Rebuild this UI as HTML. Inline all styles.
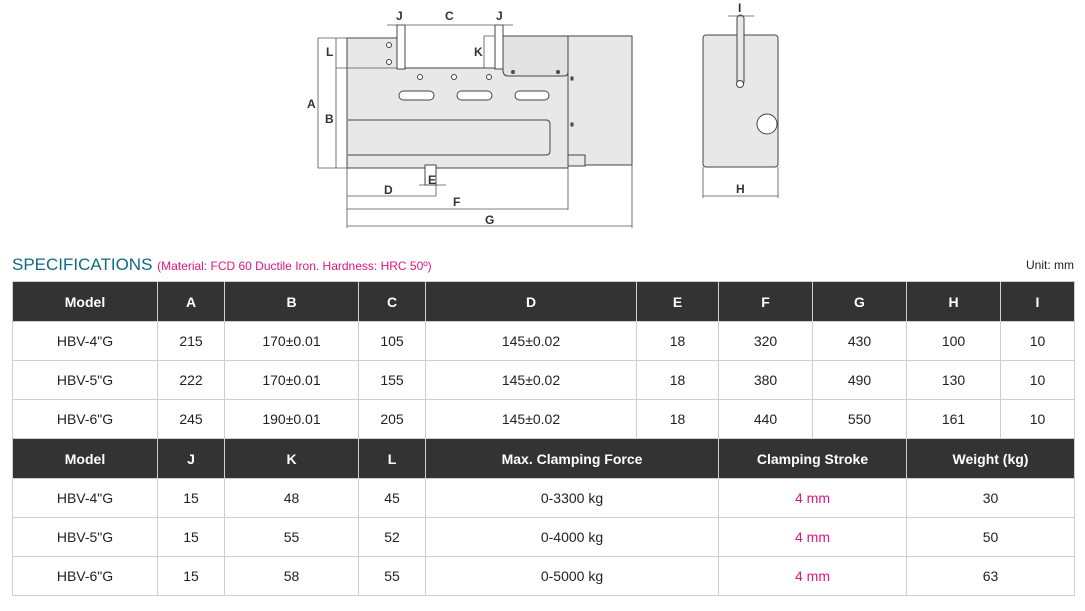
<!DOCTYPE html>
<html><head><meta charset="utf-8"><style>
body{margin:0;width:1085px;height:611px;background:#fff;position:relative;overflow:hidden;font-family:"Liberation Sans",Arial,sans-serif}
table{position:absolute;left:12px;border-collapse:collapse;table-layout:fixed;width:1062px}
td{border:1px solid #cfcfcf;text-align:center;font-size:14px;color:#222;padding:0;height:38px}
tr.h td{background:#333;color:#fff;font-weight:bold;height:39px}
.p{color:#e0157f}
</style></head><body>
<svg style="position:absolute;left:0;top:0" width="1085" height="240" font-family="Liberation Sans,Arial,sans-serif" font-size="12" font-weight="bold" fill="#333">
<g stroke="#444" stroke-width="1" fill="#e8e8e8">
<rect x="568" y="36" width="64" height="129"/>
<rect x="568" y="155" width="17" height="11"/>
<path d="M347 38 H397 V68 H503 V36 H568 V168 H347 Z"/>
<path d="M503 36 H568 V72 Q568 76 564 76 H508 Q503 76 503 70 Z" fill="#e2e2e2"/>
<rect x="397" y="25" width="8" height="44" fill="#fff"/>
<rect x="495" y="25" width="8" height="44" fill="#fff"/>
<rect x="425" y="165" width="11" height="20" fill="#fff"/>
<path d="M348 120 H546 Q550 120 550 124 V151 Q550 155 546 155 H348" fill="#e8e8e8"/>
<rect x="399" y="91" width="35" height="9" rx="4.5" fill="#fff"/>
<rect x="457" y="91" width="35" height="9" rx="4.5" fill="#fff"/>
<rect x="515" y="91" width="34" height="9" rx="4.5" fill="#fff"/>
<circle cx="389" cy="45" r="2.5" fill="#fff"/><circle cx="389" cy="62" r="2.5" fill="#fff"/>
<circle cx="420" cy="77" r="2.5" fill="#fff"/><circle cx="454" cy="77" r="2.5" fill="#fff"/><circle cx="489" cy="77" r="2.5" fill="#fff"/>
<circle cx="513" cy="72" r="1.5" fill="#555"/><circle cx="558" cy="72" r="1.5" fill="#555"/>
<rect x="571" y="77" width="2" height="3" fill="#555"/><rect x="571" y="123" width="2" height="3" fill="#555"/>
<rect x="703" y="35" width="75" height="132" rx="3"/>
<rect x="737" y="15" width="7" height="70" rx="3.5" fill="#e8e8e8"/>
<circle cx="740" cy="84" r="3.5" fill="#fff"/>
<circle cx="767" cy="124" r="10" fill="#fff"/>
</g>
<g stroke="#555" stroke-width="0.8" fill="none">
<path d="M318 38 H347 M336 38 V68 M336 68 H397 M318 168 H347 M318 38 V168 M336 68 V168"/>
<path d="M387 25 H410 M405 25 H490 M490 25 H513 M484 36 H495 M484 68 V36"/>
<path d="M347 168 V228 M568 166 V210 M632 165 V228 M436 185 V196"/>
<path d="M347 196 H436 M347 209 H568 M347 226 H632 M419 185 H446"/>
<path d="M703 167 V198 M778 167 V198 M703 196 H778 M728 16 H754"/>
</g>
<text x="396" y="20">J</text><text x="445" y="20">C</text><text x="496" y="20">J</text>
<text x="326" y="56">L</text><text x="474" y="56">K</text>
<text x="307" y="108">A</text><text x="325" y="123">B</text>
<text x="428" y="184">E</text><text x="384" y="194">D</text><text x="453" y="206">F</text><text x="485" y="224">G</text>
<text x="738" y="12">I</text><text x="736" y="193">H</text>
</svg>
<div style="position:absolute;left:12px;top:255px;font-size:17px;color:#0f6a82">SPECIFICATIONS <span style="font-size:12px;color:#e0157f">(Material: FCD 60 Ductile Iron. Hardness: HRC 50º)</span></div>
<div style="position:absolute;right:11px;top:258px;font-size:12px;color:#222">Unit: mm</div>
<table style="top:281px">
<colgroup><col style="width:145px"><col style="width:67px"><col style="width:134px"><col style="width:67px"><col style="width:211px"><col style="width:82px"><col style="width:94px"><col style="width:94px"><col style="width:94px"><col style="width:74px"></colgroup>
<tr class="h"><td>Model</td><td>A</td><td>B</td><td>C</td><td>D</td><td>E</td><td>F</td><td>G</td><td>H</td><td>I</td></tr>
<tr><td>HBV-4"G</td><td>215</td><td>170±0.01</td><td>105</td><td>145±0.02</td><td>18</td><td>320</td><td>430</td><td>100</td><td>10</td></tr>
<tr><td>HBV-5"G</td><td>222</td><td>170±0.01</td><td>155</td><td>145±0.02</td><td>18</td><td>380</td><td>490</td><td>130</td><td>10</td></tr>
<tr><td>HBV-6"G</td><td>245</td><td>190±0.01</td><td>205</td><td>145±0.02</td><td>18</td><td>440</td><td>550</td><td>161</td><td>10</td></tr>
</table>
<table style="top:438px">
<colgroup><col style="width:145px"><col style="width:67px"><col style="width:134px"><col style="width:67px"><col style="width:293px"><col style="width:188px"><col style="width:168px"></colgroup>
<tr class="h"><td>Model</td><td>J</td><td>K</td><td>L</td><td>Max. Clamping Force</td><td>Clamping Stroke</td><td>Weight (kg)</td></tr>
<tr><td>HBV-4"G</td><td>15</td><td>48</td><td>45</td><td>0-3300 kg</td><td class="p">4 mm</td><td>30</td></tr>
<tr><td>HBV-5"G</td><td>15</td><td>55</td><td>52</td><td>0-4000 kg</td><td class="p">4 mm</td><td>50</td></tr>
<tr><td>HBV-6"G</td><td>15</td><td>58</td><td>55</td><td>0-5000 kg</td><td class="p">4 mm</td><td>63</td></tr>
</table>
</body></html>
